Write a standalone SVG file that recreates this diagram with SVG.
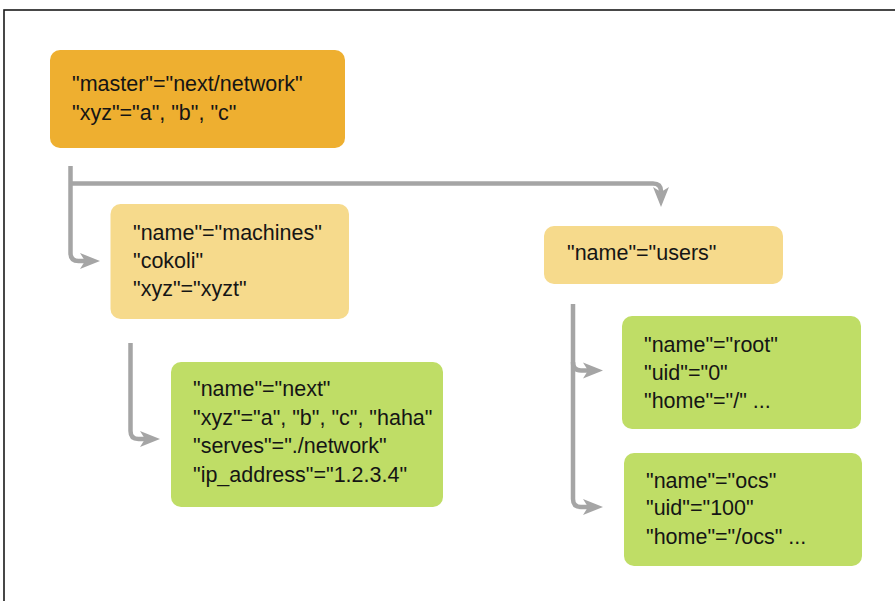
<svg xmlns="http://www.w3.org/2000/svg" width="895" height="601" viewBox="0 0 895 601">
  <style>
    .master { fill: #EEAF30; }
    .group { fill: #F6DA8C; }
    .leaf { fill: #BFDD66; }
    .label { font-family: "Liberation Sans", Arial, sans-serif; font-size: 21.5px; fill: #151515; }
    .wire { fill: none; stroke: #A5A5A5; stroke-width: 4.5; }
    .frame { fill: #FFFFFF; stroke: #1A1A1A; stroke-width: 1.6; }
  </style>
  <defs>
    <marker id="head" markerUnits="userSpaceOnUse" viewBox="-10 -9 22 18" refX="0" refY="0" markerWidth="22" markerHeight="18" orient="auto">
      <path d="M -10 -8 L 10 0 L -10 8 L -5 0 Z" fill="#A5A5A5"/>
    </marker>
  </defs>

  <rect width="895" height="601" fill="#FFFFFF"/>
  <rect class="frame" x="4" y="10" width="900" height="600"/>

  <!-- connectors -->
  <g id="connectors">
    <path class="wire" d="M 70.5 166 V 253 Q 70.5 261 78.5 261 H 90" marker-end="url(#head)"/>
    <path class="wire" d="M 70.5 183.5 H 653 Q 661 183.5 661 191.5 V 197" marker-end="url(#head)"/>
    <path class="wire" d="M 130.5 343 V 431 Q 130.5 439 138.5 439 H 150" marker-end="url(#head)"/>
    <path class="wire" d="M 573 304 V 499 Q 573 507 581 507 H 593" marker-end="url(#head)"/>
    <path class="wire" d="M 573 362 Q 573 370.5 581 370.5 H 593" marker-end="url(#head)"/>
  </g>

  <!-- root entry -->
  <g id="master">
    <rect class="master" x="50" y="50" width="295" height="98" rx="10"/>
    <text class="label" x="72" y="91">"master"="next/network"</text>
    <text class="label" x="72" y="120">"xyz"="a", "b", "c"</text>
  </g>

  <g id="machines">
    <rect class="group" x="110.5" y="204" width="238.5" height="115" rx="10"/>
    <text class="label" x="133" y="240">"name"="machines"</text>
    <text class="label" x="133" y="268">"cokoli"</text>
    <text class="label" x="133" y="296">"xyz"="xyzt"</text>
  </g>

  <g id="next">
    <rect class="leaf" x="171" y="362" width="272" height="145" rx="10"/>
    <text class="label" x="193" y="396">"name"="next"</text>
    <text class="label" x="193" y="424.5">"xyz"="a", "b", "c", "haha"</text>
    <text class="label" x="193" y="453">"serves"="./network"</text>
    <text class="label" x="193" y="482">"ip_address"="1.2.3.4"</text>
  </g>

  <g id="users">
    <rect class="group" x="544" y="226" width="239" height="58" rx="10"/>
    <text class="label" x="567" y="260">"name"="users"</text>
  </g>

  <g id="root">
    <rect class="leaf" x="622" y="316" width="239" height="113" rx="10"/>
    <text class="label" x="644" y="352">"name"="root"</text>
    <text class="label" x="644" y="380">"uid"="0"</text>
    <text class="label" x="644" y="408">"home"="/" ...</text>
  </g>

  <g id="ocs">
    <rect class="leaf" x="624" y="453" width="238" height="113" rx="10"/>
    <text class="label" x="646" y="488">"name"="ocs"</text>
    <text class="label" x="646" y="515">"uid"="100"</text>
    <text class="label" x="646" y="544">"home"="/ocs" ...</text>
  </g>
</svg>
